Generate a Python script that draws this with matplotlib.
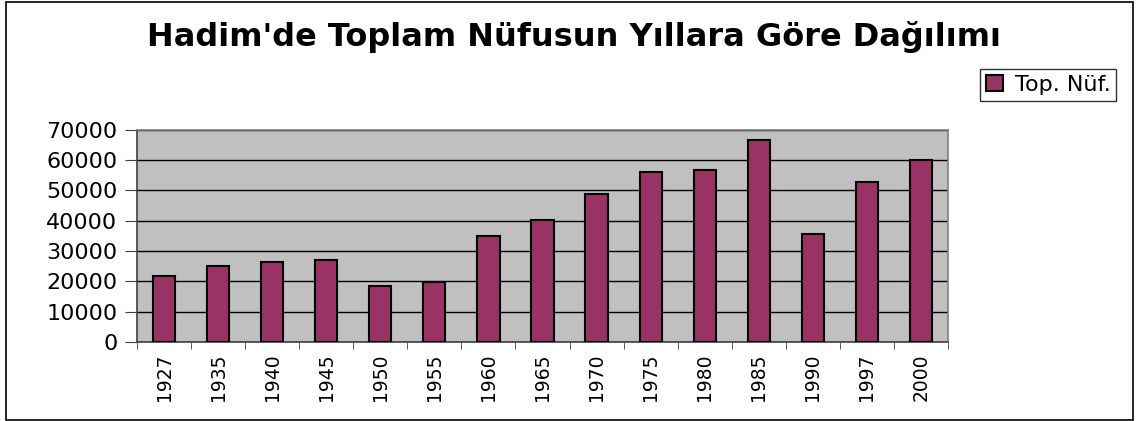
import matplotlib.pyplot as plt
import numpy as np
from matplotlib.patches import Rectangle

years = ["1927", "1935", "1940", "1945", "1950", "1955", "1960", "1965",
         "1970", "1975", "1980", "1985", "1990", "1997", "2000"]
top_nuf = [21900, 25200, 26400, 27100, 18300, 19900, 34950, 40300,
           48900, 56150, 56600, 66400, 35700, 52600, 59900]
yticks = [0, 10000, 20000, 30000, 40000, 50000, 60000, 70000]

plt.rcParams['font.family'] = ['DejaVu Sans']

fig = plt.figure(figsize=(11.36, 4.21), dpi=100)
ax = fig.add_axes([137 / 1136, 79 / 421, 811 / 1136, 212.5 / 421])

# outer frame around the whole chart
fig.patches.append(Rectangle((6 / 1136, 1 / 421), 1127 / 1136, 418 / 421,
                             transform=fig.transFigure, fill=False,
                             edgecolor="black", linewidth=1.2))

x = np.arange(len(years))
ax.set_facecolor("#C0C0C0")
ax.bar(x, top_nuf, width=0.41, color="#993366", edgecolor="black",
       linewidth=1.5, label="Top. Nüf.", zorder=3)

ax.set_xlim(-0.5, len(years) - 0.5)
ax.set_ylim(0, 70000)
ax.set_yticks(yticks)
ax.set_yticklabels([str(v) for v in yticks], fontsize=16)
ax.yaxis.grid(True, color="black", linewidth=1, zorder=0)

ax.set_xticks(x)
ax.set_xticklabels(years, rotation=90, fontsize=13.5)
ax.tick_params(axis="x", which="major", length=0, pad=8)
ax.set_xticks(np.arange(len(years) + 1) - 0.5, minor=True)
ax.tick_params(axis="x", which="minor", length=5, direction="out", color="#404040")
ax.tick_params(axis="y", length=9, direction="out", color="#404040", pad=5)

for side in ["left", "bottom"]:
    ax.spines[side].set_color("#404040")
    ax.spines[side].set_linewidth(1.2)
for side in ["top", "right"]:
    ax.spines[side].set_color("#808080")
    ax.spines[side].set_linewidth(1.2)

fig.text(574 / 1136, 1 - 37 / 421, "Hadim'de Toplam Nüfusun Yıllara Göre Dağılımı",
         ha="center", va="center", fontsize=23, fontweight="bold")

leg = fig.legend(loc="center", bbox_to_anchor=(1048 / 1136, 1 - 85 / 421),
                 fontsize=16, frameon=True, fancybox=False, handlelength=0.8,
                 handleheight=0.7, handletextpad=0.5, borderpad=0.25,
                 borderaxespad=0)
leg.get_frame().set_edgecolor("black")
leg.get_frame().set_linewidth(1)

fig.savefig("out.png", dpi=100)
